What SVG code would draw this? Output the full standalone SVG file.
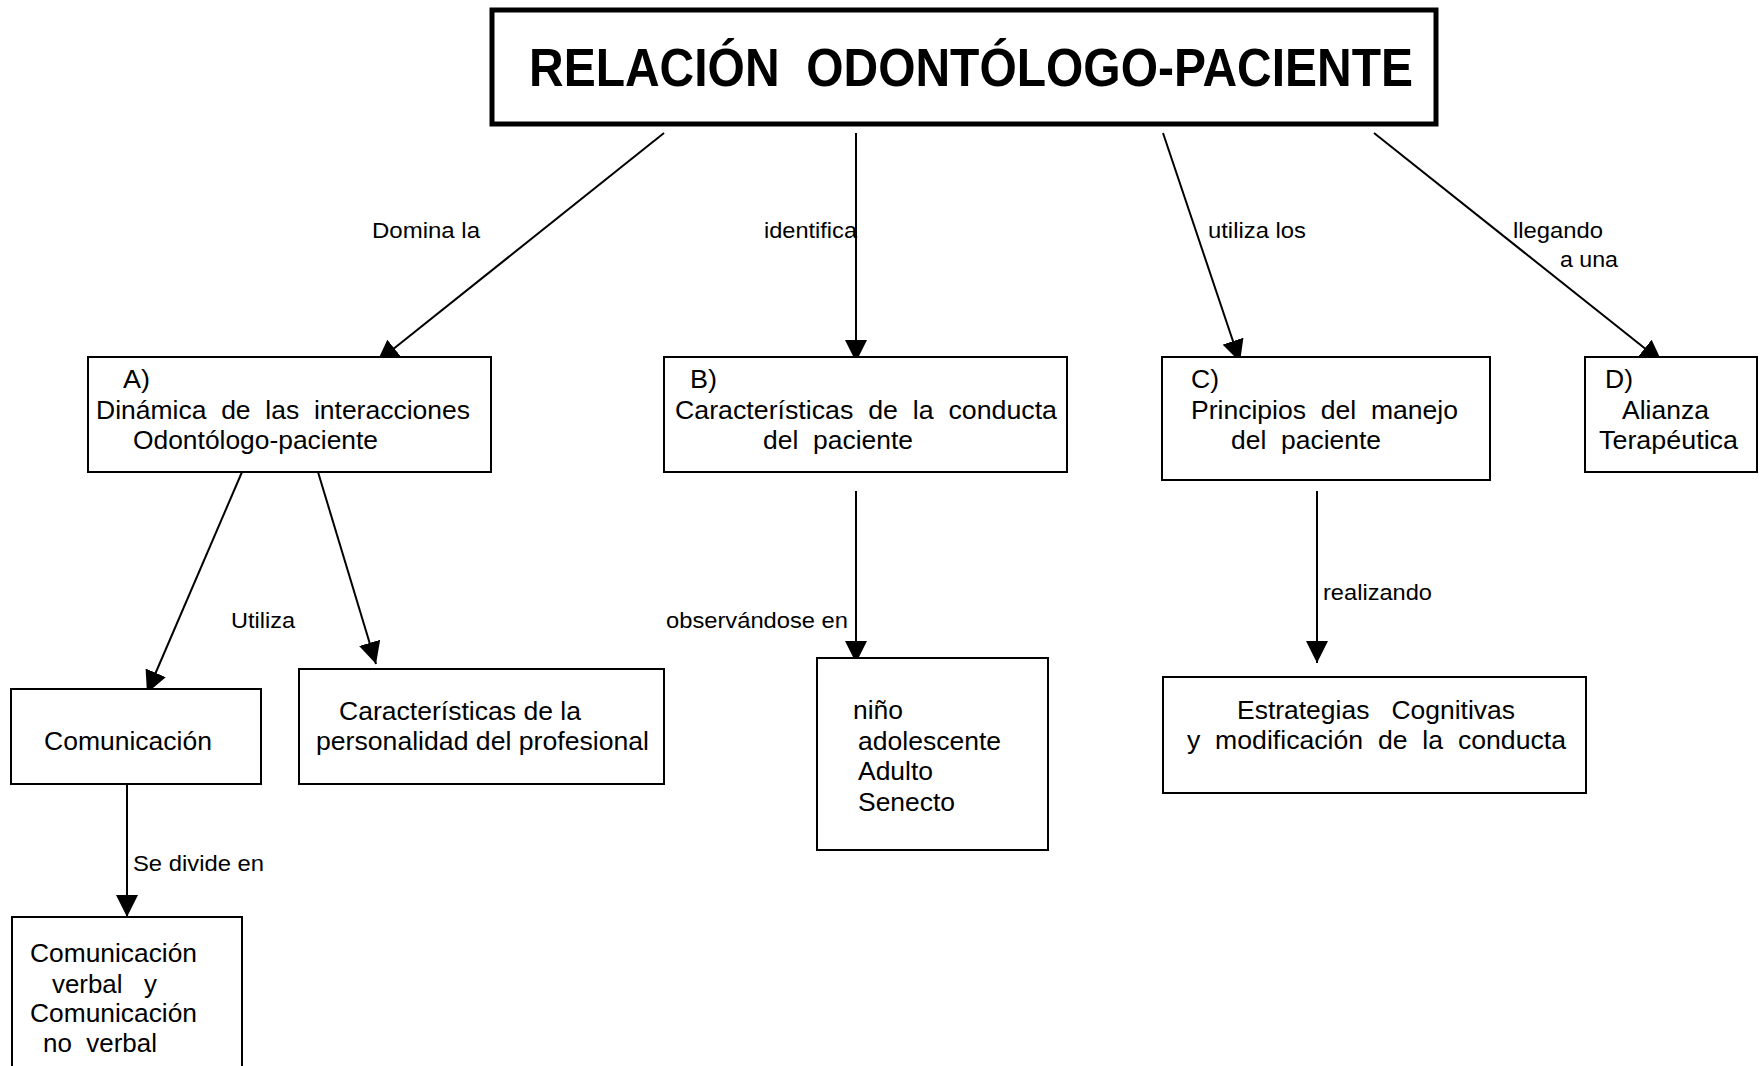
<svg xmlns="http://www.w3.org/2000/svg" width="1764" height="1066" viewBox="0 0 1764 1066" xml:space="preserve">
<style>
  .box{fill:#fff;stroke:#000;stroke-width:2}
  .tbox{fill:#fff;stroke:#000;stroke-width:5}
  .t{font-family:"Liberation Sans",Arial,sans-serif;font-size:25px;fill:#000;white-space:pre}
  .lbl{font-family:"Liberation Sans",Arial,sans-serif;font-size:22px;fill:#000;white-space:pre}
  .title{font-family:"Liberation Sans",Arial,sans-serif;font-size:53px;font-weight:bold;fill:#000;white-space:pre}
  .edge{stroke:#000;stroke-width:2;fill:none;marker-end:url(#arr)}
</style>
<defs>
  <marker id="arr" markerUnits="userSpaceOnUse" markerWidth="22" markerHeight="22" refX="22" refY="11" orient="auto">
    <path d="M0,0 L22,11 L0,22 Z" fill="#000"/>
  </marker>
</defs>
<rect width="1764" height="1066" fill="#fff"/>

<g id="connectors">
  <g id="e-title-A"><line class="edge" x1="664" y1="133" x2="377" y2="362"/><text class="lbl" x="372" y="238" textLength="108" lengthAdjust="spacingAndGlyphs">Domina la</text></g>
  <g id="e-title-B"><line class="edge" x1="856" y1="133" x2="856" y2="362"/><text class="lbl" x="764" y="238" textLength="93" lengthAdjust="spacingAndGlyphs">identifica</text></g>
  <g id="e-title-C"><line class="edge" x1="1163" y1="133" x2="1240" y2="362"/><text class="lbl" x="1208" y="238" textLength="98" lengthAdjust="spacingAndGlyphs">utiliza los</text></g>
  <g id="e-title-D"><line class="edge" x1="1374" y1="133" x2="1662" y2="362"/><text class="lbl" x="1513" y="238" textLength="90" lengthAdjust="spacingAndGlyphs">llegando</text><text class="lbl" x="1560" y="267" textLength="58" lengthAdjust="spacingAndGlyphs">a una</text></g>
  <g id="e-A-com"><line class="edge" x1="242" y1="472" x2="147" y2="693"/><text class="lbl" x="231" y="628" textLength="64" lengthAdjust="spacingAndGlyphs">Utiliza</text></g>
  <g id="e-A-pers"><line class="edge" x1="318" y1="472" x2="376" y2="664"/></g>
  <g id="e-B-etapas"><line class="edge" x1="856" y1="491" x2="856" y2="663"/><text class="lbl" x="666" y="628" textLength="182" lengthAdjust="spacingAndGlyphs">observándose en</text></g>
  <g id="e-C-estr"><line class="edge" x1="1317" y1="491" x2="1317" y2="663"/><text class="lbl" x="1323" y="600" textLength="109" lengthAdjust="spacingAndGlyphs">realizando</text></g>
  <g id="e-com-verbal"><line class="edge" x1="127" y1="784" x2="127" y2="917"/><text class="lbl" x="133" y="871" textLength="131" lengthAdjust="spacingAndGlyphs">Se divide en</text></g>
</g>

<g id="title">
  <rect class="tbox" x="492" y="10" width="944" height="114"/>
  <text class="title" x="529" y="86" textLength="884" lengthAdjust="spacingAndGlyphs">RELACIÓN  ODONTÓLOGO-PACIENTE</text>
</g>

<g id="nodeA">
  <rect class="box" x="88" y="357" width="403" height="115"/>
  <text class="t" x="123" y="388" textLength="27" lengthAdjust="spacingAndGlyphs">A)</text>
  <text class="t" x="96" y="419" textLength="374" lengthAdjust="spacingAndGlyphs">Dinámica  de  las  interacciones</text>
  <text class="t" x="133" y="449" textLength="245" lengthAdjust="spacingAndGlyphs">Odontólogo-paciente</text>
</g>

<g id="nodeB">
  <rect class="box" x="664" y="357" width="403" height="115"/>
  <text class="t" x="690" y="388" textLength="27" lengthAdjust="spacingAndGlyphs">B)</text>
  <text class="t" x="675" y="419" textLength="382" lengthAdjust="spacingAndGlyphs">Características  de  la  conducta</text>
  <text class="t" x="763" y="449" textLength="150" lengthAdjust="spacingAndGlyphs">del  paciente</text>
</g>

<g id="nodeC">
  <rect class="box" x="1162" y="357" width="328" height="123"/>
  <text class="t" x="1191" y="388" textLength="28" lengthAdjust="spacingAndGlyphs">C)</text>
  <text class="t" x="1191" y="419" textLength="267" lengthAdjust="spacingAndGlyphs">Principios  del  manejo</text>
  <text class="t" x="1231" y="449" textLength="150" lengthAdjust="spacingAndGlyphs">del  paciente</text>
</g>

<g id="nodeD">
  <rect class="box" x="1585" y="357" width="172" height="115"/>
  <text class="t" x="1605" y="388" textLength="28" lengthAdjust="spacingAndGlyphs">D)</text>
  <text class="t" x="1622" y="419" textLength="87" lengthAdjust="spacingAndGlyphs">Alianza</text>
  <text class="t" x="1599" y="449" textLength="139" lengthAdjust="spacingAndGlyphs">Terapéutica</text>
</g>

<g id="nodeComunicacion">
  <rect class="box" x="11" y="689" width="250" height="95"/>
  <text class="t" x="44" y="750" textLength="168" lengthAdjust="spacingAndGlyphs">Comunicación</text>
</g>

<g id="nodePersonalidad">
  <rect class="box" x="299" y="669" width="365" height="115"/>
  <text class="t" x="339" y="720" textLength="242" lengthAdjust="spacingAndGlyphs">Características de la</text>
  <text class="t" x="316" y="750" textLength="333" lengthAdjust="spacingAndGlyphs">personalidad del profesional</text>
</g>

<g id="nodeEtapas">
  <rect class="box" x="817" y="658" width="231" height="192"/>
  <text class="t" x="853" y="719" textLength="50" lengthAdjust="spacingAndGlyphs">niño</text>
  <text class="t" x="858" y="750" textLength="143" lengthAdjust="spacingAndGlyphs">adolescente</text>
  <text class="t" x="858" y="780" textLength="75" lengthAdjust="spacingAndGlyphs">Adulto</text>
  <text class="t" x="858" y="811" textLength="97" lengthAdjust="spacingAndGlyphs">Senecto</text>
</g>

<g id="nodeEstrategias">
  <rect class="box" x="1163" y="677" width="423" height="116"/>
  <text class="t" x="1237" y="719" textLength="278" lengthAdjust="spacingAndGlyphs">Estrategias   Cognitivas</text>
  <text class="t" x="1187" y="749" textLength="379" lengthAdjust="spacingAndGlyphs">y  modificación  de  la  conducta</text>
</g>

<g id="nodeVerbal">
  <rect class="box" x="12" y="917" width="230" height="160"/>
  <text class="t" x="30" y="962" textLength="167" lengthAdjust="spacingAndGlyphs">Comunicación</text>
  <text class="t" x="52" y="993" textLength="105" lengthAdjust="spacingAndGlyphs">verbal   y</text>
  <text class="t" x="30" y="1022" textLength="167" lengthAdjust="spacingAndGlyphs">Comunicación</text>
  <text class="t" x="43" y="1052" textLength="114" lengthAdjust="spacingAndGlyphs">no  verbal</text>
</g>
</svg>
